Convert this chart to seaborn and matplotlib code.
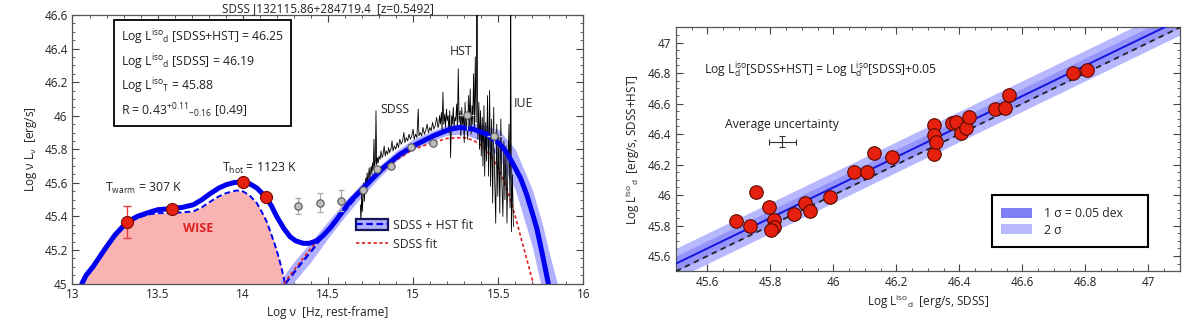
import numpy as np
import pandas as pd
import matplotlib
matplotlib.use("Agg")
import matplotlib.pyplot as plt
import seaborn as sns
from matplotlib.patches import Patch, Rectangle
from matplotlib.lines import Line2D
from matplotlib.ticker import MultipleLocator, FuncFormatter

# ---- left panel: SED of SDSS J132115.86+284719.4 ----
# total fit (torus + disk)
total_nu = [13.055, 13.08, 13.12, 13.16, 13.20, 13.25, 13.318, 13.38, 13.436, 13.50,
            13.58, 13.65, 13.71, 13.76, 13.807, 13.86, 13.905, 13.95, 14.00, 14.04,
            14.082, 14.134, 14.17, 14.199, 14.24, 14.277, 14.31, 14.355, 14.39, 14.434,
            14.47, 14.512, 14.55, 14.63, 14.708, 14.825, 14.923, 15.02, 15.119, 15.217,
            15.275, 15.353, 15.432, 15.51, 15.55, 15.588, 15.63, 15.667, 15.70, 15.726,
            15.76, 15.794]
total_L = [45.0, 45.05, 45.10, 45.16, 45.22, 45.29, 45.365, 45.40, 45.42, 45.44,
           45.447, 45.455, 45.47, 45.50, 45.535, 45.57, 45.59, 45.602, 45.607, 45.595,
           45.57, 45.517, 45.46, 45.40, 45.33, 45.28, 45.255, 45.24, 45.24, 45.255,
           45.285, 45.33, 45.38, 45.49, 45.57, 45.69, 45.77, 45.83, 45.88, 45.92,
           45.93, 45.92, 45.89, 45.83, 45.78, 45.71, 45.63, 45.53, 45.42, 45.33,
           45.17, 45.0]

# torus component (warm + hot dust), filled
torus_nu = [13.063, 13.09, 13.122, 13.16, 13.20, 13.26, 13.318, 13.38, 13.436, 13.50,
            13.58, 13.65, 13.71, 13.76, 13.807, 13.86, 13.905, 13.963, 14.00, 14.04,
            14.082, 14.11, 14.14, 14.165, 14.189, 14.21, 14.228, 14.248]
torus_L = [45.0, 45.05, 45.09, 45.15, 45.21, 45.29, 45.355, 45.39, 45.41, 45.42,
           45.42, 45.425, 45.43, 45.455, 45.487, 45.52, 45.54, 45.555, 45.55, 45.525,
           45.48, 45.43, 45.37, 45.30, 45.23, 45.16, 45.09, 45.0]

# accretion disk component (SDSS+HST fit) and its uncertainty band
disk_nu = [14.25, 14.30, 14.35, 14.40, 14.45, 14.50, 14.55, 14.63, 14.708, 14.825,
           14.923, 15.02, 15.119, 15.217, 15.275, 15.353, 15.432, 15.51, 15.588, 15.667,
           15.726, 15.794]
disk_L = [45.0, 45.065, 45.13, 45.19, 45.255, 45.315, 45.375, 45.47, 45.565, 45.69,
          45.77, 45.83, 45.88, 45.92, 45.93, 45.92, 45.89, 45.83, 45.71, 45.53,
          45.33, 45.0]
band_nu = [14.22, 14.30, 14.40, 14.50, 14.60, 14.70, 14.80, 14.90, 15.00, 15.10,
           15.20, 15.30, 15.40, 15.50, 15.60, 15.70, 15.76, 15.80, 15.86]
band_lo = [44.90, 45.01, 45.13, 45.27, 45.40, 45.52, 45.63, 45.73, 45.80, 45.845,
           45.885, 45.89, 45.85, 45.76, 45.56, 45.22, 44.95, 44.70, 44.40]
band_hi = [45.02, 45.13, 45.25, 45.37, 45.49, 45.60, 45.70, 45.79, 45.86, 45.905,
           45.945, 45.96, 45.95, 45.92, 45.80, 45.56, 45.35, 45.18, 44.95]

# SDSS-only fit
sdss_nu = [14.24, 14.30, 14.40, 14.50, 14.60, 14.70, 14.80, 14.90, 15.00, 15.10,
           15.20, 15.30, 15.35, 15.40, 15.45, 15.50, 15.55, 15.60, 15.65, 15.706]
sdss_L = [45.0, 45.08, 45.21, 45.33, 45.45, 45.55, 45.655, 45.735, 45.80, 45.835,
          45.865, 45.87, 45.855, 45.825, 45.77, 45.69, 45.57, 45.40, 45.21, 45.0]

# observed spectrum: SDSS part, HST part, IUE part
sdss_spec_nu = [14.690, 14.694, 14.698, 14.702, 14.706, 14.710, 14.714, 14.718, 14.722, 14.726,
                14.730, 14.734, 14.738, 14.742, 14.746, 14.750, 14.754, 14.758, 14.762, 14.766,
                14.770, 14.774, 14.778, 14.782, 14.786, 14.790, 14.795, 14.800, 14.806, 14.812,
                14.818, 14.824, 14.830, 14.836, 14.842, 14.850, 14.856, 14.862, 14.870, 14.876,
                14.882, 14.890, 14.898, 14.906, 14.914, 14.922, 14.930, 14.938, 14.946, 14.952,
                14.960, 14.968, 14.976, 14.984, 14.992, 15.000, 15.006, 15.014, 15.022, 15.030,
                15.034, 15.042, 15.050, 15.058, 15.066, 15.074, 15.082, 15.090, 15.098, 15.106,
                15.114, 15.122, 15.130, 15.138, 15.146]
sdss_spec_L = [45.47, 45.36, 45.55, 45.43, 45.52, 45.60, 45.49, 45.58, 45.63, 45.57,
               45.66, 45.61, 45.64, 45.69, 45.62, 45.67, 45.70, 45.65, 45.72, 45.68,
               45.86, 45.70, 45.73, 46.03, 45.71, 45.75, 45.72, 45.76, 45.74, 45.79,
               45.75, 45.77, 45.82, 45.76, 45.79, 45.77, 45.81, 45.78, 45.80, 45.85,
               45.79, 45.82, 45.80, 45.84, 45.81, 45.86, 45.83, 45.85, 45.90, 45.84,
               45.87, 45.85, 45.89, 45.86, 45.88, 45.92, 45.86, 45.89, 45.87, 46.04,
               45.88, 45.90, 45.88, 45.93, 45.89, 45.91, 45.95, 45.90, 45.93, 45.91,
               45.96, 45.92, 45.94, 45.99, 45.93]
hst_spec_nu = [15.150, 15.155, 15.160, 15.166, 15.170, 15.175, 15.180, 15.186, 15.190, 15.196,
               15.200, 15.206, 15.210, 15.215, 15.220, 15.226, 15.230, 15.236, 15.240, 15.246,
               15.250, 15.256, 15.260, 15.265, 15.270, 15.276, 15.280, 15.286, 15.290, 15.296,
               15.300, 15.305, 15.310, 15.316, 15.320, 15.326, 15.330, 15.335, 15.340, 15.346,
               15.350, 15.355, 15.360, 15.365, 15.370, 15.375, 15.380, 15.386, 15.390, 15.396,
               15.400, 15.406, 15.410, 15.416, 15.420, 15.426, 15.431]
hst_spec_L = [45.94, 46.00, 45.95, 46.02, 45.91, 46.14, 45.95, 46.01, 45.93, 46.04,
              45.97, 46.00, 45.90, 46.03, 45.75, 46.00, 45.95, 46.05, 45.93, 45.99,
              45.97, 46.07, 45.92, 46.28, 45.96, 46.03, 45.88, 46.05, 45.95, 46.00,
              45.84, 46.08, 45.92, 45.99, 45.86, 46.12, 45.93, 46.16, 45.89, 46.06,
              45.95, 46.25, 45.91, 46.35, 45.96, 46.70, 45.86, 46.08, 45.80, 46.03,
              45.76, 45.99, 45.70, 46.06, 45.64, 45.96, 45.73]
iue_spec_nu = [15.437, 15.443, 15.449, 15.455, 15.461, 15.467, 15.473, 15.479, 15.485, 15.491,
               15.497, 15.503, 15.509, 15.515, 15.521, 15.527, 15.533, 15.539, 15.545, 15.551,
               15.557, 15.563, 15.569, 15.573, 15.577, 15.583, 15.589]
iue_spec_L = [46.12, 45.64, 46.15, 45.58, 45.98, 45.48, 46.05, 45.62, 45.36, 45.95,
              45.52, 45.88, 45.42, 45.98, 45.60, 45.40, 45.85, 45.50, 45.82, 45.36,
              45.72, 45.95, 45.45, 46.70, 45.31, 45.65, 45.34]

# photometry
wise_nu = [13.318, 13.582, 14.0, 14.134]
wise_L = [45.365, 45.447, 45.607, 45.517]
wise_err = [0.095, 0.0, 0.0, 0.0]
phot_nu = [14.322, 14.451, 14.577, 14.708, 14.786, 14.87, 14.988, 15.115, 15.315, 15.477]
phot_L = [45.46, 45.483, 45.495, 45.56, 45.68, 45.70, 45.815, 45.84, 46.005, 45.88]
phot_yerr = [0.048, 0.058, 0.065, 0.0, 0.0, 0.0, 0.0, 0.0, 0.0, 0.0]
uv_nu = [15.315, 15.477]
uv_L = [46.005, 45.88]
uv_xerr = [0.045, 0.045]
uv_yerr = [0.09, 0.07]

box_lines = [r"Log L$^{\rm iso}{}_{\rm d}$ [SDSS+HST] = 46.25",
             r"Log L$^{\rm iso}{}_{\rm d}$ [SDSS] = 46.19",
             r"Log L$^{\rm iso}{}_{\rm T}$ = 45.88",
             r"R = 0.43$^{+0.11}{}_{-0.16}$ [0.49]"]

# ---- right panel: Ld(SDSS+HST) vs Ld(SDSS) ----
ld_sdss = [45.69, 45.735, 45.753, 45.795, 45.81, 45.81, 45.803, 45.876, 45.909, 45.925,
           45.989, 46.064, 46.105, 46.129, 46.185, 46.318, 46.32, 46.32, 46.326, 46.375,
           46.39, 46.405, 46.42, 46.43, 46.513, 46.543, 46.558, 46.76, 46.806]
ld_both = [45.83, 45.80, 46.022, 45.921, 45.833, 45.788, 45.77, 45.873, 45.95, 45.897,
           45.989, 46.149, 46.149, 46.274, 46.252, 46.271, 46.457, 46.392, 46.35, 46.475,
           46.479, 46.405, 46.438, 46.51, 46.562, 46.573, 46.656, 46.80, 46.823]
offset = 0.05
sigma = 0.05
avg_unc_x, avg_unc_y = 45.838, 46.35
avg_unc_xerr, avg_unc_yerr = 0.044, 0.038

BLUE = "#0000f0"
BAND = "#b0b0ff"
PINK = "#f9b3b3"
RED = "#e5200f"

sns.set_theme(style="ticks")
plt.rcParams["font.family"] = ["Open Sans", "DejaVu Sans"]
plt.rcParams["mathtext.fontset"] = "custom"
plt.rcParams["mathtext.rm"] = "Open Sans"
plt.rcParams["mathtext.it"] = "Open Sans:italic"
plt.rcParams["mathtext.bf"] = "Open Sans:bold"

fig = plt.figure(figsize=(12, 3.26), dpi=100)
ax1 = fig.add_axes([0.0604, 0.130, 0.4258, 0.824])
ax2 = fig.add_axes([0.5633, 0.168, 0.4200, 0.748])

fmt = FuncFormatter(lambda v, p: f"{v:g}")


def style_axes(ax, xmaj, xmin, ymaj, ymin):
    ax.xaxis.set_major_locator(MultipleLocator(xmaj))
    ax.xaxis.set_minor_locator(MultipleLocator(xmin))
    ax.yaxis.set_major_locator(MultipleLocator(ymaj))
    ax.yaxis.set_minor_locator(MultipleLocator(ymin))
    ax.xaxis.set_major_formatter(fmt)
    ax.yaxis.set_major_formatter(fmt)
    ax.tick_params(which="both", direction="in", top=True, right=True,
                   color="#444444", labelsize=8.5, labelcolor="#222222")
    ax.tick_params(which="major", length=5, width=0.8)
    ax.tick_params(which="minor", length=2.5, width=0.6)
    for sp in ax.spines.values():
        sp.set_color("#555555")
        sp.set_linewidth(0.9)


# ---------- left panel ----------
ax1.fill_between(torus_nu, 45.0, torus_L, color=PINK, lw=0, zorder=1)
ax1.fill_between(band_nu, band_lo, band_hi, color=BAND, lw=0, zorder=2)
sns.lineplot(x=torus_nu, y=torus_L, ax=ax1, color=BLUE, lw=1.4, sort=False,
             estimator=None, zorder=3).lines[-1].set_dashes([3, 1.6])
sns.lineplot(x=disk_nu, y=disk_L, ax=ax1, color=BLUE, lw=1.6, sort=False,
             estimator=None, zorder=3).lines[-1].set_dashes([3, 1.6])
sns.lineplot(x=sdss_nu, y=sdss_L, ax=ax1, color="#e02020", lw=1.2, sort=False,
             estimator=None, zorder=3.5).lines[-1].set_dashes([2, 1.5])
spec_nu = sdss_spec_nu + hst_spec_nu + iue_spec_nu
spec_L = sdss_spec_L + hst_spec_L + iue_spec_L
sns.lineplot(x=spec_nu, y=spec_L, ax=ax1, color="black", lw=0.6, sort=False,
             estimator=None, zorder=4)
sns.lineplot(x=total_nu, y=total_L, ax=ax1, color=BLUE, lw=3.6, sort=False,
             estimator=None, zorder=5)

ax1.errorbar(uv_nu, uv_L, xerr=uv_xerr, yerr=uv_yerr, fmt="none",
             ecolor="#c8c8c8", elinewidth=0.9, zorder=5.5)
ax1.errorbar(phot_nu, phot_L, yerr=phot_yerr, fmt="none", ecolor="#a8a8a8",
             elinewidth=0.9, capsize=2.5, capthick=0.9, zorder=5.6)
sns.scatterplot(x=phot_nu, y=phot_L, ax=ax1, s=28, color="#bdbdbd",
                edgecolor="#555555", linewidth=0.8, zorder=6)
ax1.errorbar(wise_nu, wise_L, yerr=wise_err, fmt="none", ecolor="#e04040",
             elinewidth=1.0, capsize=3, capthick=1.0, zorder=6)
sns.scatterplot(x=wise_nu, y=wise_L, ax=ax1, s=75, color=RED,
                edgecolor="#7a0a00", linewidth=0.8, zorder=7)

ax1.set_xlim(13, 16)
ax1.set_ylim(45, 46.6)
style_axes(ax1, 0.5, 0.1, 0.2, 0.05)
ax1.set_title("SDSS J132115.86+284719.4  [z=0.5492]", fontsize=8.5, pad=2,
              color="#222222")
ax1.set_xlabel("Log ν  [Hz, rest-frame]", fontsize=8.5, labelpad=3, color="#222222")
ax1.set_ylabel(r"Log ν L$_{\rm ν}$  [erg/s]", fontsize=8.5, labelpad=4, color="#222222")

ax1.text(0.095, 0.953, "\n".join(box_lines), transform=ax1.transAxes, fontsize=8.8,
         va="top", ha="left", linespacing=1.35, color="#222222",
         bbox=dict(boxstyle="square,pad=0.55", fc="white", ec="black", lw=1.3))
ax1.text(13.42, 45.545, r"T$_{\rm warm}$ = 307 K", fontsize=8.8, ha="center", color="#222222")
ax1.text(14.10, 45.665, r"T$_{\rm hot}$ = 1123 K", fontsize=8.8, ha="center", color="#222222")
ax1.text(13.74, 45.33, "WISE", fontsize=9, ha="center", va="center",
         color="#e02020", fontweight="bold")
ax1.text(14.895, 46.04, "SDSS", fontsize=8.8, ha="center", va="center", color="#222222")
ax1.text(15.28, 46.38, "HST", fontsize=8.8, ha="center", va="center", color="#222222")
ax1.text(15.65, 46.07, "IUE", fontsize=8.8, ha="center", va="center", color="#222222")

h_fit = (Patch(facecolor=BAND, edgecolor="#15155a", lw=1.6),
         Line2D([], [], color=BLUE, lw=1.6, dashes=[3, 1.6]))
h_sdss = Line2D([], [], color="#e02020", lw=1.2, dashes=[2, 1.5])
ax1.legend([h_fit, h_sdss], ["SDSS + HST fit", "SDSS fit"], loc="upper left",
           bbox_to_anchor=(0.555, 0.24), frameon=False, fontsize=8.8,
           handlelength=2.6, handleheight=1.0, handletextpad=0.4,
           labelspacing=0.45, borderaxespad=0, borderpad=0)

# ---------- right panel ----------
xs = np.array([45.5, 47.1])
ax2.fill_between(xs, xs + offset - 2 * sigma, xs + offset + 2 * sigma,
                 color="#b8b8ff", lw=0, zorder=1)
ax2.fill_between(xs, xs + offset - sigma, xs + offset + sigma,
                 color="#9494fb", lw=0, zorder=2)
sns.lineplot(x=xs, y=xs + offset, ax=ax2, color="#1515e0", lw=1.4, zorder=3)
sns.lineplot(x=xs, y=xs, ax=ax2, color="#222222", lw=1.3, zorder=3).lines[-1].set_dashes([3, 2.5])
sns.scatterplot(x=ld_sdss, y=ld_both, ax=ax2, s=95, color=RED,
                edgecolor="#5a0a00", linewidth=0.8, zorder=5)
ax2.errorbar([avg_unc_x], [avg_unc_y], xerr=[avg_unc_xerr], yerr=[avg_unc_yerr],
             fmt="none", ecolor="#333333", elinewidth=0.8, capsize=2, capthick=0.8)
ax2.text(avg_unc_x, 46.465, "Average uncertainty", fontsize=8.8, ha="center",
         va="center", color="#222222")
ax2.text(45.59, 46.82,
         r"Log L$^{\rm iso}_{\rm d}$[SDSS+HST] = Log L$^{\rm iso}_{\rm d}$[SDSS]+0.05",
         fontsize=8.8, ha="left", va="center", color="#222222")

ax2.set_xlim(45.5, 47.1)
ax2.set_ylim(45.5, 47.1)
style_axes(ax2, 0.2, 0.05, 0.2, 0.05)
ax2.set_xlabel(r"Log L$^{\rm iso}{}_{\rm d}$  [erg/s, SDSS]", fontsize=8.5,
               labelpad=3, color="#222222")
ax2.set_ylabel(r"Log L$^{\rm iso}{}_{\rm d}$  [erg/s, SDSS+HST]", fontsize=8.5,
               labelpad=4, color="#222222")

ax2.add_patch(Rectangle((0.6275, 0.0975), 0.3085, 0.215, transform=ax2.transAxes,
                        fill=False, ec="black", lw=1.5, zorder=6))
ax2.legend([Patch(facecolor="#7f7ff5", lw=0), Patch(facecolor="#b8b8ff", lw=0)],
           ["1 σ = 0.05 dex", "2 σ"], loc="center left", bbox_to_anchor=(0.645, 0.203),
           frameon=False, fontsize=8.8, handlelength=2.5, handleheight=0.9,
           handletextpad=1.0, labelspacing=0.3, borderaxespad=0, borderpad=0)

fig.savefig("out.png", dpi=100)
